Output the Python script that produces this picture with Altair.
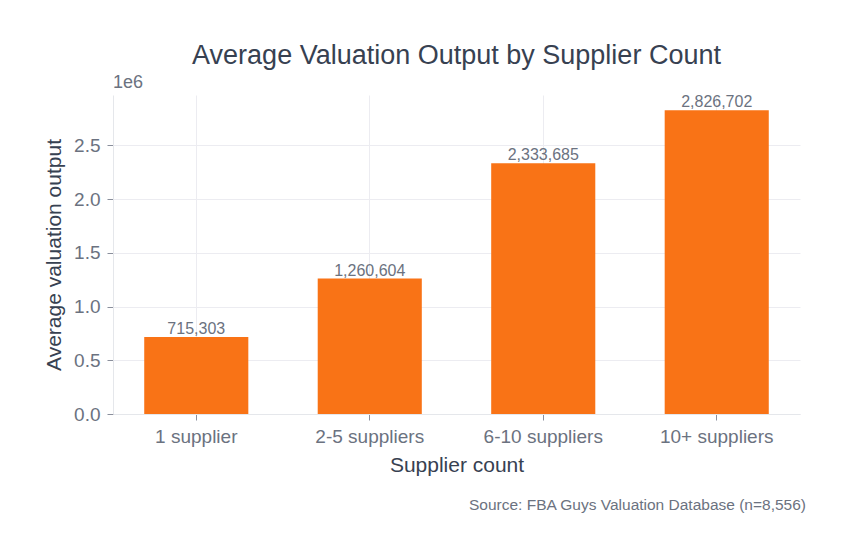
import altair as alt
import pandas as pd

categories = ["1 supplier", "2-5 suppliers", "6-10 suppliers", "10+ suppliers"]
values = [715303, 1260604, 2333685, 2826702]
y_ticks = [0, 500000, 1000000, 1500000, 2000000, 2500000]
title_text = "Average Valuation Output by Supplier Count"
x_title = "Supplier count"
y_title = "Average valuation output"
offset_label = "1e6"
source_text = "Source: FBA Guys Valuation Database (n=8,556)"

df = pd.DataFrame({"cat": categories, "val": values})

FONT = "Liberation Sans"
DARK = "#374151"
GRAY = "#6B7280"
GRID = "#ECECF1"

x = alt.X("cat:N", sort=categories, title=x_title,
          scale=alt.Scale(paddingInner=0.4, paddingOuter=0.18),
          axis=alt.Axis(labelAngle=0, grid=True, bandPosition=0.5, gridColor=GRID,
                        domainColor="#E5E7EB", tickColor="#8A8F9C", tickSize=6,
                        labelFontSize=19, labelColor=GRAY, labelFont=FONT, labelPadding=7,
                        titleFontSize=21, titleColor=DARK, titleFont=FONT, titleFontWeight="normal",
                        titlePadding=8))
y = alt.Y("val:Q", title=y_title,
          scale=alt.Scale(domain=[0, 2968037], nice=False, zero=True),
          axis=alt.Axis(values=y_ticks, labelExpr="format(datum.value / 1000000, '.1f')",
                        grid=True, gridColor=GRID, domainColor="#E5E7EB",
                        tickColor="#8A8F9C", tickSize=6,
                        labelFontSize=19, labelColor=GRAY, labelFont=FONT, labelPadding=7,
                        titleFontSize=21, titleColor=DARK, titleFont=FONT, titleFontWeight="normal",
                        titlePadding=9))

bars = alt.Chart(df).mark_bar(color="#F97316").encode(x=x, y=y)
labels = alt.Chart(df).mark_text(baseline="alphabetic", dy=-3, fontSize=16, color=GRAY, font=FONT).encode(
    x=alt.X("cat:N", sort=categories), y="val:Q", text=alt.Text("val:Q", format=","))

offset = alt.Chart(pd.DataFrame({"t": [offset_label]})).mark_text(
    align="left", baseline="alphabetic", fontSize=18, color=GRAY, font=FONT).encode(
    x=alt.value(0), y=alt.value(-7), text="t:N")

source = alt.Chart(pd.DataFrame({"t": [source_text]})).mark_text(
    align="right", baseline="alphabetic", fontSize=15.5, color=GRAY, font=FONT).encode(
    x=alt.value(693), y=alt.value(415), text="t:N")

chart = alt.layer(bars, labels, offset, source).properties(
    width=687, height=319,
    background="white",
    title=alt.TitleParams(title_text, fontSize=27, color=DARK, font=FONT, fontWeight="normal",
                          anchor="middle", offset=4),
    autosize=alt.AutoSizeParams(type="none"),
    padding={"left": 113, "top": 95, "right": 51, "bottom": 143},
).configure_view(stroke=None)

chart.save("out.html", embed_options={"renderer": "svg", "actions": False})
